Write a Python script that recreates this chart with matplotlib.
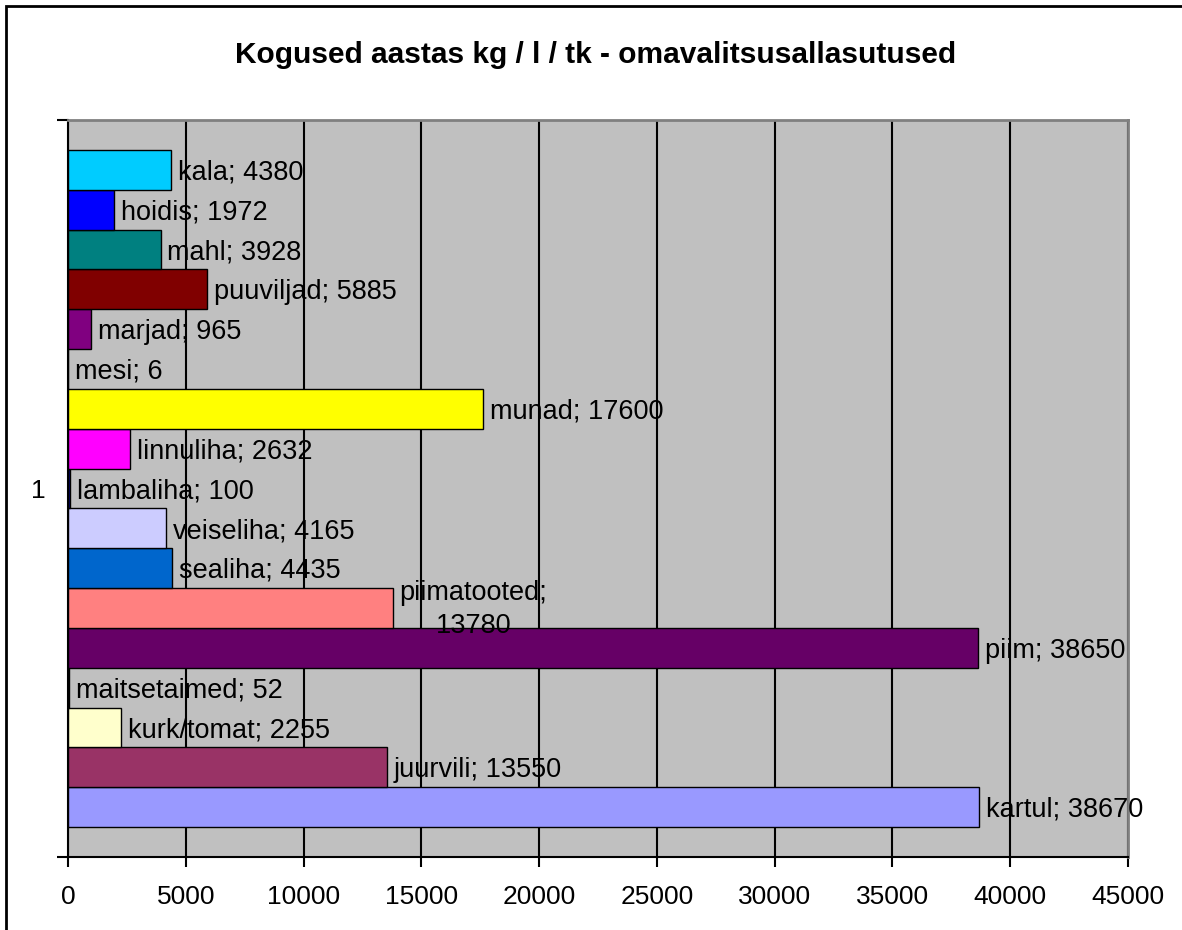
import matplotlib.pyplot as plt
from matplotlib.patches import Rectangle

plt.rcParams['font.family'] = ['Liberation Sans', 'DejaVu Sans']

# series from bottom to top
names = ['kartul', 'juurvili', 'kurk/tomat', 'maitsetaimed', 'piim', 'piimatooted',
         'sealiha', 'veiseliha', 'lambaliha', 'linnuliha', 'munad', 'mesi',
         'marjad', 'puuviljad', 'mahl', 'hoidis', 'kala']
values = [38670, 13550, 2255, 52, 38650, 13780, 4435, 4165, 100, 2632, 17600, 6,
          965, 5885, 3928, 1972, 4380]
colors = ['#9999FF', '#993366', '#FFFFCC', '#CCFFFF', '#660066', '#FF8080',
          '#0066CC', '#CCCCFF', '#000080', '#FF00FF', '#FFFF00', '#00FFFF',
          '#800080', '#800000', '#008080', '#0000FF', '#00CCFF']
category = '1'
xticks = [0, 5000, 10000, 15000, 20000, 25000, 30000, 35000, 40000, 45000]

fig = plt.figure(figsize=(11.82, 9.30), dpi=100)
# outer chart border, only left and top edges are inside the picture
fig.patches.append(Rectangle((6 / 1182, -10 / 930), 1200 / 1182, 934 / 930,
                             transform=fig.transFigure, fill=False,
                             edgecolor='black', lw=2))
ax = fig.add_axes([68 / 1182, 1 - 857 / 930, 1060 / 1182, 737 / 930])
ax.set_facecolor('#C0C0C0')

pos = list(range(len(names)))
ax.barh(pos, values, height=1.0, color=colors, edgecolor='black', lw=1, zorder=3)

for i, (n, v) in enumerate(zip(names, values)):
    if n == 'piimatooted':
        ax.annotate(n + ';\n' + str(v), (v, i), xytext=(5, -1), textcoords='offset points',
                    ha='left', va='center', multialignment='center', fontsize=19.5,
                    linespacing=1.35, zorder=4)
    else:
        ax.annotate(n + '; ' + str(v), (v, i), xytext=(5, -2), textcoords='offset points',
                    ha='left', va='center', fontsize=19.5, zorder=4)

pad = 0.754
ax.set_ylim(-0.5 - pad, len(names) - 0.5 + pad)
ax.set_xlim(0, 45000)
ax.set_xticks(xticks)
ax.set_xticklabels([str(t) for t in xticks], fontsize=19)
ax.tick_params(axis='x', length=7, width=1.5, pad=13, color='black')
ax.set_yticks([-0.5 - pad, len(names) - 0.5 + pad])
ax.set_yticklabels(['', ''])
ax.tick_params(axis='y', length=8, width=1.5)
ax.set_yticks([(len(names) - 1) / 2], minor=True)
ax.set_yticklabels([category], minor=True, fontsize=19)
ax.tick_params(axis='y', which='minor', length=0, pad=16)
ax.grid(axis='x', color='black', lw=1.5, zorder=1)

ax.spines['left'].set_linewidth(1.5)
ax.spines['bottom'].set_linewidth(1.5)
ax.spines['top'].set_color('#808080')
ax.spines['right'].set_color('#808080')
ax.spines['top'].set_linewidth(2)
ax.spines['right'].set_linewidth(2)

fig.text(596 / 1182, 1 - 55 / 930, 'Kogused aastas kg / l / tk - omavalitsusallasutused',
         ha='center', va='center', fontsize=21.5, fontweight='bold')

fig.savefig('out.png', dpi=100)
